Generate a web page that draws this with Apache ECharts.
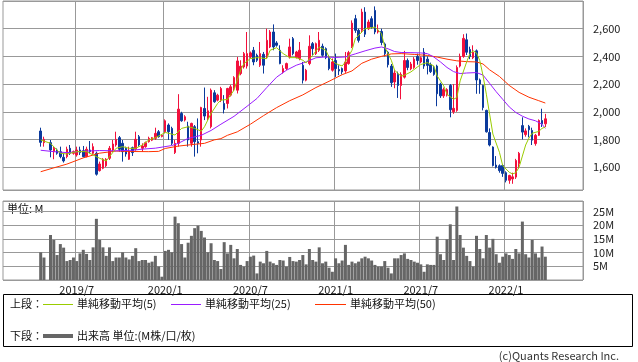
<!DOCTYPE html>
<html><head><meta charset="utf-8">
<script src="https://cdn.jsdelivr.net/npm/echarts/dist/echarts.min.js"></script>
<style>html,body{margin:0;padding:0;background:#fff}#c{width:638px;height:362px}</style>
</head><body><div id="c"></div>
<script>
// ---- data (weekly) ----
const firstWeek = [2019, 1, 28];       // first category (Monday)
const weekCount = 177;                 // categories on the axis
const dataStartWeek = 11;              // category index of first candle (2019/4/15)
const tickLabels = ['2019/7','2020/1','2020/7','2021/1','2021/7','2022/1'];
// [open, close, low, high], null = no trading week
const ohlc = [
[1861,1779,1748,1885],[1777,1801,1748,1820],null,[1777,1724,1671,1796],[1712,1736,1657,1748],
[1724,1700,1690,1735],[1712,1676,1664,1748],[1671,1645,1633,1700],[1676,1729,1664,1748],[1736,1700,1688,1760],
[1700,1712,1690,1720],[1688,1724,1676,1748],[1724,1705,1688,1748],[1719,1676,1671,1753],[1676,1729,1671,1748],
[1724,1712,1700,1789],[1700,1748,1688,1772],[1700,1549,1539,1712],[1575,1623,1568,1640],[1592,1657,1585,1665],
[1610,1657,1600,1665],[1664,1736,1652,1753],[1724,1767,1712,1796],[1760,1801,1748,1856],[1813,1729,1712,1825],
[1772,1712,1640,1796],[1736,1695,1676,1748],[1657,1712,1652,1748],[1741,1705,1681,1748],[1729,1801,1719,1856],
[1820,1760,1748,1832],[1736,1753,1712,1772],[1748,1777,1740,1785],[1784,1808,1777,1820],[1795,1813,1788,1818],
[1808,1844,1796,1885],[1856,1820,1813,1868],[1822,1830,1815,1835],[1856,1935,1844,1945],[1904,1856,1796,1916],
[1880,1772,1760,1892],[1705,1772,1695,1796],[1772,2019,1748,2127],[1988,1935,1928,2000],[1940,1964,1930,1975],
[1897,1796,1748,1928],[1772,1916,1748,1921],[1892,1784,1676,1904],[1784,1772,1700,1952],[1796,2031,1748,2036],
[2024,1969,1940,2175],[1952,2007,1940,2108],[1892,2156,1880,2168],[2137,2072,2065,2156],[2084,2120,2075,2130],
[2084,2168,2070,2180],[2060,2017,1988,2120],[2060,2168,2024,2173],[2120,2180,2110,2195],[2168,2247,2151,2257],
[2156,2367,2132,2396],[2276,2329,2264,2372],[2324,2420,2312,2432],[2330,2420,2312,2576],[2396,2425,2385,2435],
[2444,2360,2336,2468],[2408,2372,2360,2420],[2336,2420,2324,2504],[2415,2336,2276,2432],[2396,2516,2384,2600],
[2468,2576,2460,2590],[2576,2468,2444,2631],[2497,2480,2470,2510],[2444,2348,2343,2480],[2288,2312,2276,2336],
[2312,2348,2300,2355],[2396,2468,2384,2528],[2528,2420,2408,2540],[2391,2432,2385,2440],[2384,2444,2372,2504],
[2336,2228,2204,2360],[2228,2300,2220,2310],[2348,2473,2336,2552],[2492,2456,2408,2504],[2420,2492,2410,2500],
[2444,2516,2432,2576],[2473,2408,2396,2492],[2456,2391,2380,2465],[2384,2312,2300,2408],[2300,2360,2290,2385],
[2370,2312,2252,2420],[2305,2295,2264,2336],[2312,2288,2270,2320],[2295,2360,2281,2432],[2348,2427,2340,2440],
[2470,2640,2460,2660],[2672,2588,2570,2700],[2588,2516,2500,2600],[2588,2720,2570,2744],[2720,2560,2540,2755],
[2600,2648,2590,2665],[2672,2612,2600,2690],[2732,2576,2560,2761],[2576,2590,2565,2630],[2580,2500,2480,2600],
[2490,2420,2400,2500],[2430,2340,2320,2440],[2330,2210,2180,2345],[2215,2280,2170,2300],[2270,2190,2100,2290],
[2190,2270,2090,2285],[2250,2370,2240,2440],[2370,2320,2300,2385],[2310,2345,2300,2360],[2320,2380,2310,2395],
[2400,2370,2340,2420],[2360,2390,2350,2400],[2430,2330,2310,2460],[2380,2335,2270,2400],[2340,2290,2280,2355],
[2320,2270,2260,2330],[2330,2130,2040,2340],[2200,2115,2100,2210],[2115,2160,2100,2175],[2120,2160,2110,2170],
[2190,2015,1960,2200],[2000,2025,1985,2200],[2010,2320,2000,2335],[2330,2400,2320,2420],[2400,2530,2390,2560],
[2520,2430,2410,2565],[2450,2400,2380,2470],[2390,2430,2380,2480],[2440,2230,2130,2450],[2230,2200,2130,2240],
[2190,2030,2010,2195],[2010,1855,1850,2015],[1850,1760,1750,1880],[1745,1612,1605,1750],[1615,1600,1590,1680],
[1610,1575,1560,1620],[1612,1555,1530,1620],[1560,1505,1490,1570],[1505,1540,1480,1545],[1515,1530,1480,1560],
[1528,1648,1515,1660],[1625,1700,1590,1710],[1900,1853,1800,1960],[1835,1862,1820,1880],[1895,1870,1815,1905],
[1865,1795,1760,1885],[1770,1830,1755,1840],[1830,1937,1825,1945],[1937,1913,1890,2022],[1913,1949,1890,1985]
];
// volume, millions
const volumeM = [
10.1,8.2,null,16.4,14.6,9.1,13.1,11.8,6.9,7.3,
8.2,6.9,9.7,11.0,9.5,7.3,11.9,22.3,14.6,11.9,
8.8,11.9,6.9,8.2,8.2,10.1,8.2,7.5,8.8,11.6,
6.9,7.3,7.3,6.3,6.7,8.8,4.9,1.2,10.6,11.0,
10.1,23.1,20.7,13.1,8.2,13.6,16.1,18.9,19.8,17.9,
15.5,10.1,13.4,7.3,6.9,4.0,13.8,9.7,12.8,7.9,
11.3,5.5,4.9,6.9,8.5,8.9,2.4,6.7,6.1,10.6,
6.7,6.1,5.5,7.3,7.1,4.9,8.4,6.9,6.7,7.3,
9.1,5.7,11.3,7.3,6.7,11.9,6.1,6.7,4.5,3.0,
7.9,6.1,7.1,12.8,5.5,6.7,6.1,6.7,7.9,8.5,
7.9,7.1,5.5,4.9,4.9,6.9,4.5,2.4,7.9,7.9,
9.1,9.7,7.7,7.3,6.7,6.3,5.7,3.0,5.7,5.5,
5.5,15.8,9.4,7.3,14.8,20.3,7.3,26.8,16.4,11.8,
8.8,6.9,4.9,16.1,11.3,7.9,16.4,11.8,15.0,9.4,
6.3,8.5,9.7,9.1,7.7,11.3,9.7,21.3,9.4,8.2,
14.6,9.7,8.2,12.2,8.5
];
// moving averages: [candle index, value]
const ma5 = [[0,1796],[3,1772],[6,1700],[8,1695],[11,1712],[14,1712],[16,1688],[18,1664],[20,1645],[21,1676],[23,1736],[25,1748],[27,1736],[29,1736],[31,1760],[33,1796],[35,1813],[37,1837],[38,1851],[41,1832],[43,1880],[45,1892],[47,1880],[49,1860],[50,1892],[52,1988],[54,2060],[55,2084],[57,2089],[59,2156],[60,2228],[61,2300],[62,2348],[64,2384],[66,2391],[69,2384],[70,2444],[72,2463],[74,2420],[76,2391],[78,2391],[80,2372],[81,2353],[83,2408],[85,2468],[87,2444],[88,2396],[90,2348],[92,2331],[93,2360],[95,2444],[96,2528],[98,2576],[99,2600],[101,2607],[102,2612],[104,2564],[105,2468],[107,2372],[108,2300],[110,2257],[111,2264],[113,2288],[115,2324],[116,2341],[118,2355],[120,2331],[121,2259],[123,2187],[124,2127],[126,2090],[127,2103],[128,2223],[130,2360],[131,2420],[132,2440],[133,2425],[134,2370],[135,2260],[136,2127],[137,1983],[138,1839],[140,1707],[141,1611],[143,1563],[144,1551],[145,1560],[146,1600],[147,1680],[148,1760],[149,1810],[150,1845],[152,1858],[153,1880],[154,1890]];
const ma25 = [[0,1722],[4,1712],[8,1705],[13,1715],[18,1720],[23,1718],[28,1722],[31,1730],[35,1737],[40,1756],[42,1772],[45,1808],[49,1830],[52,1865],[55,1910],[59,1967],[63,2040],[66,2096],[69,2175],[72,2250],[75,2300],[78,2336],[81,2360],[84,2390],[87,2396],[90,2392],[93,2396],[96,2418],[99,2440],[102,2460],[104,2468],[106,2455],[108,2435],[110,2428],[113,2427],[116,2425],[118,2420],[120,2395],[122,2360],[124,2320],[126,2290],[128,2276],[130,2280],[133,2283],[135,2265],[137,2205],[139,2145],[141,2090],[143,2035],[145,1995],[147,1968],[149,1948],[151,1935],[153,1910],[154,1880]];
const ma50 = [[0,1567],[4,1595],[8,1622],[13,1667],[18,1701],[23,1716],[28,1713],[33,1712],[36,1714],[38,1735],[42,1752],[47,1765],[50,1772],[53,1797],[55,1806],[57,1830],[60,1855],[64,1910],[68,1972],[72,2030],[76,2080],[80,2122],[84,2175],[88,2220],[92,2268],[95,2295],[98,2350],[101,2380],[104,2400],[107,2418],[110,2420],[114,2414],[118,2407],[121,2395],[124,2380],[127,2368],[130,2362],[133,2360],[135,2345],[137,2303],[140,2255],[143,2190],[146,2140],[149,2105],[152,2080],[154,2063]];

// ---- build ----
const FONT = '"Noto Sans CJK JP", "Noto Sans", sans-serif';
const UP = '#f2103c', DOWN = '#0b3a9c';
const categories = [];
for (let k = 0; k < weekCount; k++) {
  const d = new Date(Date.UTC(firstWeek[0], firstWeek[1] - 1, firstWeek[2] + 7 * k));
  categories.push(d.getUTCFullYear() + '/' + (d.getUTCMonth() + 1) + '/' + d.getUTCDate());
}
function ym(c) { const p = c.split('/'); return p[0] + '/' + p[1]; }
function isTick(idx) {
  const c = categories[idx]; if (!c) return false;
  return +c.split('/')[2] <= 7 && tickLabels.indexOf(ym(c)) >= 0;
}
const candleData = categories.map((c, k) => { const r = ohlc[k - dataStartWeek]; return r ? r : '-'; });
const volData = categories.map((c, k) => { const v = volumeM[k - dataStartWeek]; return v == null ? '-' : v; });
const shift = arr => arr.map(p => [p[0] + dataStartWeek, p[1]]);
const fmtNum = v => String(v).replace(/\B(?=(\d{3})+(?!\d))/g, ',');

const gridLine = { show: true, interval: (i) => isTick(i), lineStyle: { color: '#999', width: 1 } };
const chart = echarts.init(document.getElementById('c'), null, { renderer: 'canvas' });
chart.setOption({
  animation: false,
  textStyle: { fontFamily: FONT },
  grid: [
    { left: 3, right: 55, top: 1, height: 189, show: true, borderColor: '#999', borderWidth: 1 },
    { left: 3, right: 55, top: 201, height: 79, show: true, borderColor: '#999', borderWidth: 1 }
  ],
  xAxis: [
    { type: 'category', gridIndex: 0, data: categories, boundaryGap: true,
      axisLine: { show: false }, axisTick: { show: false }, axisLabel: { show: false }, splitLine: gridLine },
    { type: 'category', gridIndex: 1, data: categories, boundaryGap: true,
      axisLine: { show: false }, axisTick: { show: false }, splitLine: gridLine,
      axisLabel: { interval: (i) => isTick(i), formatter: (v) => ym(v), margin: 4,
        color: '#222', fontSize: 11, fontFamily: FONT } }
  ],
  yAxis: [
    { type: 'value', gridIndex: 0, position: 'right', min: 1435, max: 2800, splitNumber: 7,
      minInterval: 200, maxInterval: 200,
      axisLine: { show: false }, axisTick: { show: false },
      axisLabel: { margin: 10, color: '#222', fontSize: 11, fontFamily: FONT,
        formatter: (v) => (v % 200 === 0 && v >= 1600 && v <= 2600) ? fmtNum(v) : '' },
      splitLine: { lineStyle: { color: '#999', width: 1 } } },
    { type: 'value', gridIndex: 1, position: 'right', min: 0, max: 28.8, interval: 5,
      axisLine: { show: false }, axisTick: { show: false },
      axisLabel: { margin: 10, color: '#222', fontSize: 11, fontFamily: FONT,
        formatter: (v) => (v > 0 && v % 5 === 0) ? v + 'M' : '' },
      splitLine: { lineStyle: { color: '#999', width: 1 } } }
  ],
  series: [
    { type: 'candlestick', xAxisIndex: 0, yAxisIndex: 0, data: candleData, barWidth: 2,
      itemStyle: { color: UP, color0: DOWN, borderColor: UP, borderColor0: DOWN, borderWidth: 1 } },
    { type: 'line', xAxisIndex: 0, yAxisIndex: 0, data: shift(ma50), showSymbol: false, silent: true,
      lineStyle: { color: '#ff3300', width: 1 } },
    { type: 'line', xAxisIndex: 0, yAxisIndex: 0, data: shift(ma25), showSymbol: false, silent: true,
      lineStyle: { color: '#9a1cff', width: 1 } },
    { type: 'line', xAxisIndex: 0, yAxisIndex: 0, data: shift(ma5), showSymbol: false, silent: true,
      lineStyle: { color: '#99cc00', width: 1 } },
    { type: 'bar', xAxisIndex: 1, yAxisIndex: 1, data: volData, barWidth: 3,
      itemStyle: { color: '#666666' } }
  ],
  graphic: [
    { type: 'text', x: 7, y: 209, style: { text: '単位: M', font: '11px ' + FONT, fill: '#111', verticalAlign: 'middle' } },
    { type: 'rect', shape: { x: 3.5, y: 294.5, width: 629, height: 52 }, style: { fill: 'none', stroke: '#000', lineWidth: 1 } },
    { type: 'text', x: 10, y: 304, style: { text: '上段：', font: '11px ' + FONT, fill: '#111', verticalAlign: 'middle' } },
    { type: 'line', shape: { x1: 43, y1: 304.5, x2: 73, y2: 304.5 }, style: { stroke: '#99cc00', lineWidth: 1 } },
    { type: 'text', x: 77, y: 304, style: { text: '単純移動平均(5)', font: '11px ' + FONT, fill: '#111', verticalAlign: 'middle' } },
    { type: 'line', shape: { x1: 171, y1: 304.5, x2: 201, y2: 304.5 }, style: { stroke: '#9a1cff', lineWidth: 1 } },
    { type: 'text', x: 205, y: 304, style: { text: '単純移動平均(25)', font: '11px ' + FONT, fill: '#111', verticalAlign: 'middle' } },
    { type: 'line', shape: { x1: 315, y1: 304.5, x2: 346, y2: 304.5 }, style: { stroke: '#ff3300', lineWidth: 1 } },
    { type: 'text', x: 350, y: 304, style: { text: '単純移動平均(50)', font: '11px ' + FONT, fill: '#111', verticalAlign: 'middle' } },
    { type: 'text', x: 10, y: 336, style: { text: '下段：', font: '11px ' + FONT, fill: '#111', verticalAlign: 'middle' } },
    { type: 'line', shape: { x1: 43, y1: 336, x2: 73, y2: 336 }, style: { stroke: '#666666', lineWidth: 4 } },
    { type: 'text', x: 77, y: 336, style: { text: '出来高 単位:(M株/口/枚)', font: '11px ' + FONT, fill: '#111', verticalAlign: 'middle' } },
    { type: 'text', x: 619, y: 356, style: { text: '(c)Quants Research Inc.', font: '11px ' + FONT, fill: '#333', align: 'right', verticalAlign: 'middle' } }
  ]
});
</script>
</body></html>
